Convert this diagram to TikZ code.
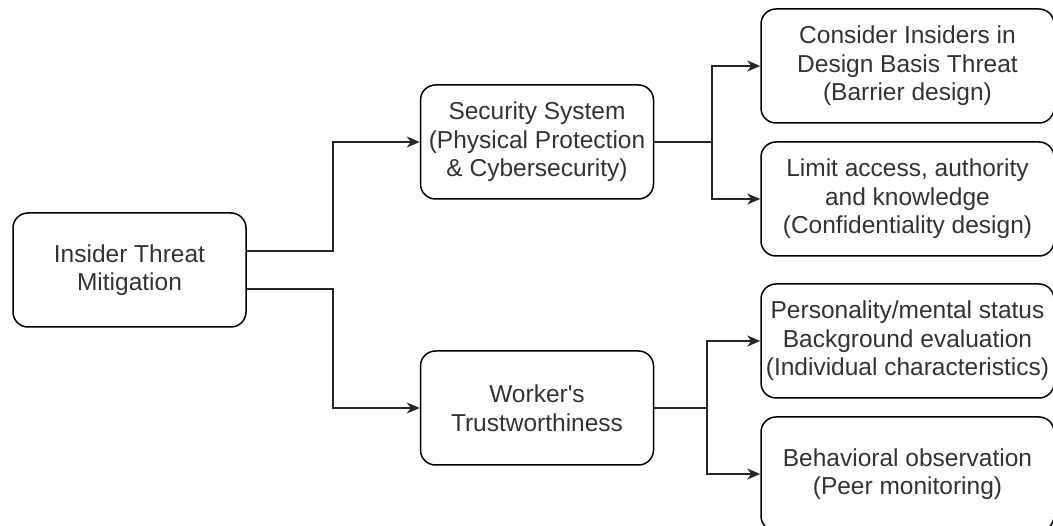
\documentclass[tikz,border=0pt]{standalone}
\usepackage{fontspec}
\setmainfont{Liberation Sans}
\usetikzlibrary{arrows.meta,positioning}

\begin{document}
\begin{tikzpicture}[x=1pt, y=1pt,
      >={Stealth[length=13pt, width=11pt, inset=4pt]},
      every node/.append style={align=center},
      box/.style={draw, rounded corners=15pt, line width=1.5pt,
        minimum width=233pt, minimum height=114pt, inner sep=2pt,
        text=black!80, font=\fontsize{24.5}{28.5}\selectfont},
      wide/.style={box, minimum width=293pt},
      link/.style={line width=2pt, black!85}]

  \useasboundingbox (0,0) rectangle (1053,-526);

  \node [box] (root) at (129.5,-270) {Insider Threat\\Mitigation};
  \node [box, right=173pt of root, yshift=128pt] (sec)
        {Security System\\(Physical Protection\\\& Cybersecurity)};
  \node [box, right=173pt of root, yshift=-138pt] (work)
        {Worker\textquotesingle s\\Trustworthiness};

  \node [wide, right=106pt of sec, yshift=76pt] (dbt)
        {Consider Insiders in\\Design Basis Threat\\(Barrier design)};
  \node [wide, right=106pt of sec, yshift=-57pt] (lim)
        {Limit access, authority\\and knowledge\\(Confidentiality design)};
  \node [wide, right=106pt of work, yshift=67pt] (pers)
        {Personality/mental status\\Background evaluation\\(Individual characteristics)};
  \node [wide, right=106pt of work, yshift=-66pt] (beh)
        {Behavioral observation\\(Peer monitoring)};

  % root to the two branches
  \draw [link, ->] ([yshift=19pt]root.east) -- ++(86pt,0) |- (sec.west);
  \draw [link, ->] ([yshift=-19pt]root.east) -- ++(86pt,0) |- (work.west);

  % security system measures
  \draw [link] (sec.east) -- ++(58pt,0) coordinate (sj);
  \draw [link, ->] (sj) |- (dbt.west);
  \draw [link, ->] (sj) |- (lim.west);

  % trustworthiness measures
  \draw [link] (work.east) -- ++(53pt,0) coordinate (wj);
  \draw [link, ->] (wj) |- (pers.west);
  \draw [link, ->] (wj) |- (beh.west);
\end{tikzpicture}
\end{document}
